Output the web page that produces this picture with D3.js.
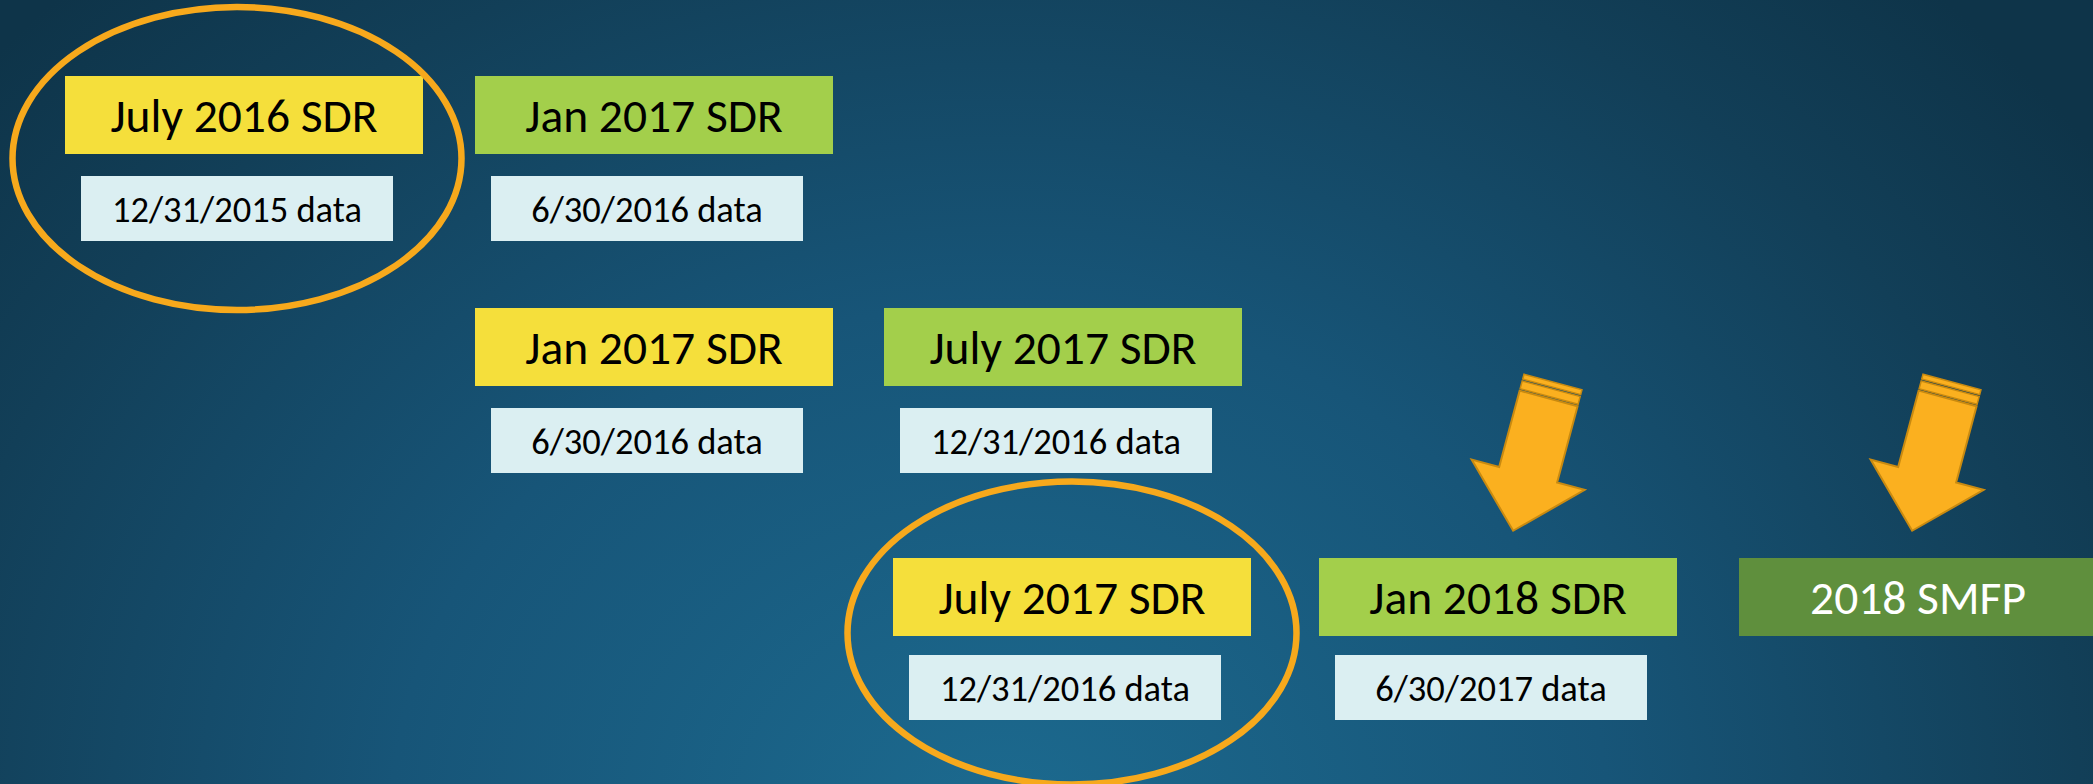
<!DOCTYPE html>
<html>
<head>
<meta charset="utf-8">
<script src="https://cdn.jsdelivr.net/npm/d3@7/dist/d3.min.js"></script>
<style>
  html, body { margin: 0; padding: 0; overflow: hidden; background: #123c52; }
  svg { display: block; }
</style>
</head>
<body>
<script>
// ---- Data ----
const sdrLabels  = ["July 2016 SDR", "Jan 2017 SDR", "Jan 2017 SDR", "July 2017 SDR", "July 2017 SDR", "Jan 2018 SDR", "2018 SMFP"];
const dataLabels = ["12/31/2015 data", "6/30/2016 data", "6/30/2016 data", "12/31/2016 data", "12/31/2016 data", "6/30/2017 data", null];
const boxKinds   = ["current", "upcoming", "current", "upcoming", "current", "upcoming", "final"];
const rowKeys    = ["r1", "r1", "r2", "r2", "r3", "r3", "r3"];
const slotKeys   = ["a", "b", "b", "c", "c2", "d", "e"];
const circled    = [0, 4];          // boxes wrapped by an orange ellipse
const arrowTargets = [5, 6];        // boxes pointed to by a striped arrow

// ---- Layout ----
const W = 2093, H = 784;
const boxW = 358, boxH = 78, dataW = 312, dataH = 65, dataInset = 16;
const titleSize = 47.5, dataSize = 36.5, capRatio = 0.717;

const xSlot = d3.scaleOrdinal().domain(["a", "b", "c", "c2", "d", "e"]).range([65, 475, 884, 893, 1319, 1739]);
const yTitle = d3.scaleOrdinal().domain(["r1", "r2", "r3"]).range([76, 308, 558]);
const yData  = d3.scaleOrdinal().domain(["r1", "r2", "r3"]).range([176, 408, 655]);
const fillKind = d3.scaleOrdinal().domain(["current", "upcoming", "final"]).range(["#f5df3b", "#a3cf4b", "#5f8f3d"]);
const textKind = d3.scaleOrdinal().domain(["current", "upcoming", "final"]).range(["#000", "#000", "#fff"]);

const FONT = "Carlito, Calibri, Lato, 'Open Sans', sans-serif";

const svg = d3.select("body").append("svg").attr("width", W).attr("height", H);

// background
const defs = svg.append("defs");
const rg = defs.append("radialGradient").attr("id", "bg")
  .attr("gradientUnits", "userSpaceOnUse")
  .attr("cx", 1000).attr("cy", 820).attr("r", 1350)
  .attr("gradientTransform", "translate(1000,820) scale(1,0.85) translate(-1000,-820)");
rg.append("stop").attr("offset", 0).attr("stop-color", "#1c6a8f");
rg.append("stop").attr("offset", 0.45).attr("stop-color", "#175578");
rg.append("stop").attr("offset", 0.8).attr("stop-color", "#123f58");
rg.append("stop").attr("offset", 1).attr("stop-color", "#0e3449");
svg.append("rect").attr("width", W).attr("height", H).attr("fill", "url(#bg)");

const items = sdrLabels.map((s, i) => ({
  i, sdr: s, data: dataLabels[i], kind: boxKinds[i], row: rowKeys[i], slot: slotKeys[i]
}));

// boxes
const g = svg.append("g");
const grp = g.selectAll("g.item").data(items).join("g").attr("class", "item");

grp.append("rect")
  .attr("x", d => xSlot(d.slot)).attr("y", d => yTitle(d.row))
  .attr("width", boxW).attr("height", boxH)
  .attr("fill", d => fillKind(d.kind));

grp.append("text")
  .attr("x", d => xSlot(d.slot) + boxW / 2)
  .attr("y", d => yTitle(d.row) + boxH / 2 + titleSize * capRatio / 2)
  .attr("text-anchor", "middle")
  .attr("font-family", FONT).attr("font-size", titleSize)
  .attr("fill", d => textKind(d.kind))
  .text(d => d.sdr);

const withData = grp.filter(d => d.data);
withData.append("rect")
  .attr("x", d => xSlot(d.slot) + dataInset).attr("y", d => yData(d.row))
  .attr("width", dataW).attr("height", dataH)
  .attr("fill", "#dbeff2");
withData.append("text")
  .attr("x", d => xSlot(d.slot) + dataInset + dataW / 2)
  .attr("y", d => yData(d.row) + dataH / 2 + dataSize * capRatio / 2)
  .attr("text-anchor", "middle")
  .attr("font-family", FONT).attr("font-size", dataSize)
  .attr("fill", "#000")
  .text(d => d.data);

// ellipses around circled groups
svg.selectAll("ellipse.hl").data(circled.map(i => items[i])).join("ellipse")
  .attr("class", "hl")
  .attr("cx", d => xSlot(d.slot) + boxW / 2 - (d.row === "r1" ? 7 : 0))
  .attr("cy", d => (yTitle(d.row) + yData(d.row) + dataH) / 2 - (d.row === "r3" ? 6 : 0))
  .attr("rx", 224.5).attr("ry", 151.5)
  .attr("fill", "none").attr("stroke", "#f7a91c").attr("stroke-width", 6.5);

// striped arrows (local frame: tail top centre at origin, pointing +y)
const sw = 30, headW = 58.5, shaftL = 96, totL = 154;
const arrowBody = d3.line()([
  [-sw, 17], [sw, 17], [sw, shaftL], [headW, shaftL], [0, totL], [-headW, shaftL], [-sw, shaftL]
]) + "Z";
const arrows = svg.selectAll("g.arrow").data(arrowTargets.map(i => items[i])).join("g")
  .attr("class", "arrow")
  .attr("transform", d => `translate(${xSlot(d.slot) + boxW / 2 + (d.kind === "final" ? 34 : 55)},382) rotate(15)`);
const arrowFill = "#fbb01f", arrowLine = "#c98a10";
arrows.append("rect").attr("x", -sw).attr("y", 0).attr("width", 2 * sw).attr("height", 5)
  .attr("fill", arrowFill).attr("stroke", arrowLine).attr("stroke-width", 1.5);
arrows.append("rect").attr("x", -sw).attr("y", 7).attr("width", 2 * sw).attr("height", 8)
  .attr("fill", arrowFill).attr("stroke", arrowLine).attr("stroke-width", 1.5);
arrows.append("path").attr("d", arrowBody)
  .attr("fill", arrowFill).attr("stroke", arrowLine).attr("stroke-width", 2).attr("stroke-linejoin", "miter");
</script>
</body>
</html>
